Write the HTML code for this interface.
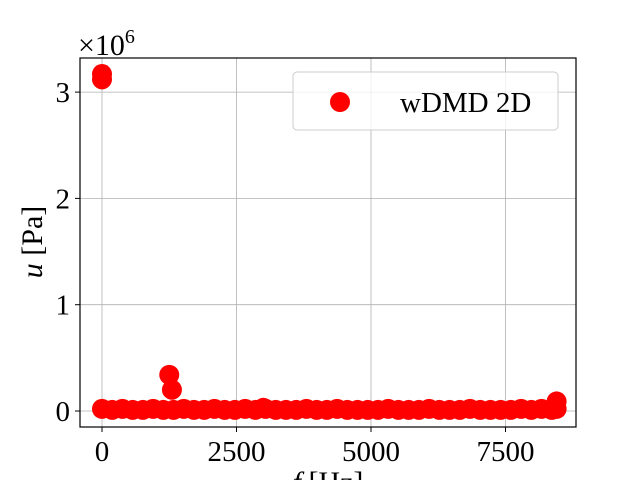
<!DOCTYPE html>
<html><head><meta charset="utf-8"><style>
body{margin:0;background:#fff}
svg text{font-family:"Liberation Serif",serif;fill:#000}
</style></head><body>
<svg width="640" height="480">
<g id="grid"></g>
<g id="pts"></g>
<rect x="80" y="58" width="496" height="369" fill="none" stroke="#000" stroke-width="1.2"/>
<g id="ticks"></g>
<text x="78" y="55" font-size="30">×10<tspan dy="-12" font-size="20">6</tspan></text>
<text transform="translate(42,242) rotate(-90)" text-anchor="middle" font-size="30"><tspan font-style="italic">u</tspan> [Pa]</text>
<text x="328" y="492" text-anchor="middle" font-size="30"><tspan font-style="italic">f</tspan> [Hz]</text>
<g>
<rect x="293" y="72" width="265" height="58" rx="4" fill="#fff" fill-opacity="0.8" stroke="#ccc"/>
<circle cx="340" cy="102" r="10" fill="#f00"/>
<text x="400" y="112" font-size="29">wDMD 2D</text>
</g>
</svg>
<script>
const freqs=[0,0,0,190,380,570,760,950,1140,1250,1300,1330,1520,1710,1900,2090,2280,2470,2660,2850,3000,3040,3230,3420,3610,3800,3990,4180,4370,4560,4750,4940,5130,5320,5510,5700,5890,6080,6270,6460,6650,6840,7030,7220,7410,7600,7790,7980,8170,8360,8450,8450];
const amps=[3.17,3.12,0.02,0.01,0.02,0.01,0.01,0.02,0.01,0.34,0.2,0.01,0.02,0.01,0.01,0.02,0.01,0.01,0.02,0.01,0.03,0.02,0.01,0.01,0.01,0.02,0.01,0.01,0.02,0.01,0.01,0.01,0.01,0.02,0.01,0.01,0.01,0.02,0.01,0.01,0.01,0.02,0.01,0.01,0.01,0.01,0.02,0.01,0.02,0.01,0.09,0.02];
const xTicks=[0,2500,5000,7500];
const yTicks=[0,1,2,3];
const X=v=>102+v*134.5/2500, Y=v=>411-v*106.3;
const ns="http://www.w3.org/2000/svg";
const grid=document.getElementById('grid'),tk=document.getElementById('ticks'),pts=document.getElementById('pts');
function mk(tag,a,p){const e=document.createElementNS(ns,tag);for(const k in a)e.setAttribute(k,a[k]);p.appendChild(e);return e;}
xTicks.forEach(t=>{const x=X(t);
const g=mk('line',{x1:x,x2:x,y1:58,y2:427,stroke:'#b0b0b0','stroke-width':0.8},grid);


const l=mk('line',{x1:x,x2:x,y1:427,y2:432,stroke:'#000'},tk);


const s=mk('text',{x:x,y:461,'text-anchor':'middle','font-size':29},tk);s.textContent=t;

});
yTicks.forEach(t=>{const y=Y(t);
const g=mk('line',{x1:80,x2:576,y1:y,y2:y,stroke:'#b0b0b0','stroke-width':0.8},grid);


const l=mk('line',{x1:75,x2:80,y1:y,y2:y,stroke:'#000'},tk);


const s=mk('text',{x:70,y:y+10,'text-anchor':'end','font-size':29},tk);s.textContent=t;

});
freqs.forEach((f,i)=>{const c=mk('circle',{cx:X(f),cy:Y(amps[i]),r:10,fill:'#f00'},pts);

});
</script>
</body></html>
